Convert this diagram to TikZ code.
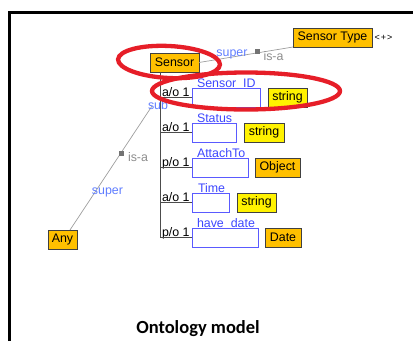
\documentclass[tikz,border=0pt]{standalone}
\usepackage{fontspec}
\setmainfont{Liberation Sans}
\newfontfamily\titlefont{Carlito}
\begin{document}
\begin{tikzpicture}[x=1pt,y=-1pt,
  every node/.style={font=\fontsize{12.4}{14}\selectfont, inner sep=0pt, outer sep=0pt},
  concept/.style={draw=black!75, line width=0.8pt, fill=conceptorange, minimum height=19pt, anchor=north west},
  literal/.style={draw=black!75, line width=0.8pt, fill=yellow, minimum height=19pt, anchor=north west},
  slot/.style={draw=slotblue, line width=0.9pt, fill=white, minimum height=19pt, anchor=north west},
  slotname/.style={text=nameblue, anchor=base west},
  card/.style={text=black, anchor=base west},
  rolelabel/.style={text=roleblue, anchor=center},
  isalabel/.style={text=black!45, anchor=center},
  isaline/.style={draw=black!38, line width=0.7pt},
  isamark/.style={fill=black!55, minimum size=5pt, inner sep=0pt, anchor=center},
  spine/.style={draw=black!70, line width=0.8pt},
  ring/.style={draw=ringred, line width=4.3pt},
]
\definecolor{conceptorange}{RGB}{255,192,0}
\definecolor{slotblue}{RGB}{90,90,255}
\definecolor{nameblue}{RGB}{60,70,255}
\definecolor{roleblue}{RGB}{95,125,255}
\definecolor{ringred}{RGB}{230,30,40}

\useasboundingbox (0,0) rectangle (413,341);

% frame
\draw[line width=3pt] (9,341) |- (413,12.5);

% concepts
\node[concept, minimum width=79pt] (stype) at (293,28) {Sensor Type};
\node[anchor=west, font=\fontsize{9}{10}\selectfont] (expand) at (374.5,38) {<\kern1pt+\kern1pt>};
\node[concept, minimum width=49pt] (sensor) at (150,53) {Sensor};
\node[concept, minimum width=29pt] (any) at (48,230) {Any};

% is-a: Sensor -> Sensor Type
\draw[isaline] (sensor.east) -- (stype.south west);
\node[isamark] (m1) at (257,51.5) {};
\node[rolelabel] (sup1) at (232,54) {super};
\node[isalabel] (isa1) at (273.5,56.5) {is-a};

% is-a: Any -> Sensor
\coordinate (subend) at (152,106);
\draw[isaline] ([xshift=7.5pt]any.north) -- (subend);
\node[isamark] (m2) at (121,153.5) {};
\node[rolelabel] (sub) at (158,105) {sub};
\node[isalabel] (isa2) at (138,157) {is-a};
\node[rolelabel] (sup2) at (107.5,192.5) {super};

% slots
\coordinate (root) at (160,72);

\node[slotname] (n1) at (197,87) {Sensor\_ID};
\node[slot, minimum width=68pt] (s1) at (192,88) {};
\node[literal, minimum width=39pt] (t1) at (268,88) {string};
\node[card] (c1) at (162,96) {a/o 1};

\node[slotname] (n2) at (197,122) {Status};
\node[slot, minimum width=44pt] (s2) at (192,123) {};
\node[literal, minimum width=40pt] (t2) at (244,123) {string};
\node[card] (c2) at (162,131) {a/o 1};

\node[slotname] (n3) at (197,157) {AttachTo};
\node[slot, minimum width=56pt] (s3) at (192,158) {};
\node[concept, minimum width=45pt] (t3) at (255,158) {Object};
\node[card] (c3) at (162,166) {p/o 1};

\node[slotname] (n4) at (198,192) {Time};
\node[slot, minimum width=37pt] (s4) at (192,193) {};
\node[literal, minimum width=39pt] (t4) at (237,193) {string};
\node[card] (c4) at (162,201) {a/o 1};

\node[slotname] (n5) at (197,227) {have\_date};
\node[slot, minimum width=66pt] (s5) at (192,228) {};
\node[concept, minimum width=36pt] (t5) at (265,228) {Date};
\node[card] (c5) at (162,236) {p/o 1};

\draw[spine] (root) |- (s5.west);
\foreach \s in {s1,s2,s3,s4}
  \draw[spine] (\s.west -| root) -- (\s.west);

% highlight rings
\draw[ring, rotate around={-3:(169,62)}] (169,62) ellipse [x radius=51pt, y radius=16pt];
\draw[ring] (246,91) ellipse [x radius=94pt, y radius=18.5pt];

% caption
\node[font=\titlefont\bfseries\fontsize{18.5}{22}\selectfont, anchor=base] (title) at (198,333) {Ontology model};
\end{tikzpicture}
\end{document}
